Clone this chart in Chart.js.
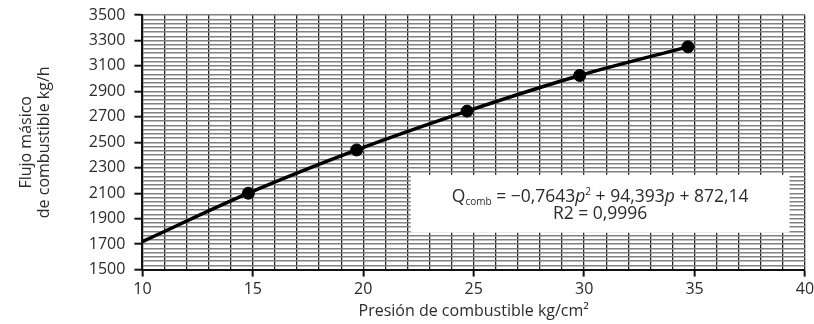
<!DOCTYPE html>
<html>
<head>
<meta charset="utf-8">
<script src="https://cdn.jsdelivr.net/npm/chart.js@4.4.1/dist/chart.umd.min.js"></script>
<style>
  html, body { margin: 0; padding: 0; background: #fff; }
  #wrap { width: 814px; height: 324px; }
</style>
</head>
<body>
<div id="wrap"><canvas id="chart"></canvas></div>
<script>
// Measured points: presión (kg/cm2) vs flujo másico (kg/h)
const presion = [14.8, 19.7, 24.7, 29.8, 34.7];
const flujo = [2100, 2440, 2745, 3025, 3250];

// Trend curve (starts at the left axis)
const curvaPresion = [10, 14.8, 19.7, 24.7, 29.8, 34.7];
const curvaFlujo = [1720, 2100, 2440, 2745, 3025, 3250];

// Labelled ticks
const xTicks = [10, 15, 20, 25, 30, 35, 40];
const yTicks = [1500, 1700, 1900, 2100, 2300, 2500, 2700, 2900, 3100, 3300, 3500];

const xTitle = 'Presión de combustible kg/cm²';
const yTitle = ['Flujo másico', 'de combustible kg/h'];
const r2Texto = 'R2 = 0,9996';

const FONT = "'Open Sans', sans-serif";
const TEXT = '#2b2b2b';

// equation box: white panel drawn over the grid
const eqBox = {
    id: 'eqBox',
    beforeDatasetsDraw(chart) {
        const { ctx, scales: { x, y } } = chart;
        const left = x.getPixelForValue(22.15), right = x.getPixelForValue(39.3);
        const top = y.getPixelForValue(2245), bottom = y.getPixelForValue(1790);
        ctx.save();
        ctx.fillStyle = '#fff';
        ctx.fillRect(left, top, right - left, bottom - top);

        const main = '17.5px ' + FONT, ital = 'italic 17.5px ' + FONT, small = '10px ' + FONT;
        const parts = [
            { t: 'Q', f: main, dy: 0 },
            { t: 'comb', f: small, dy: 3 },
            { t: ' = \u22120,7643', f: main, dy: 0 },
            { t: 'p', f: ital, dy: 0 },
            { t: '2', f: small, dy: -7 },
            { t: ' + 94,393', f: main, dy: 0 },
            { t: 'p', f: ital, dy: 0 },
            { t: ' + 872,14', f: main, dy: 0 }
        ];
        let total = 0;
        parts.forEach(p => { ctx.font = p.f; p.w = ctx.measureText(p.t).width; total += p.w; });
        const cx = (left + right) / 2;
        let px = cx - total / 2;
        const base1 = top + 27;
        ctx.fillStyle = TEXT;
        ctx.textBaseline = 'alphabetic';
        ctx.textAlign = 'left';
        parts.forEach(p => {
            ctx.font = p.f;
            ctx.fillText(p.t, px, base1 + p.dy);
            px += p.w;
        });
        ctx.font = main;
        ctx.textAlign = 'center';
        ctx.fillText(r2Texto, cx, base1 + 17);
        ctx.restore();
    }
};

const isLabelled = (list, v) => list.includes(Math.round(v));

new Chart(document.getElementById('chart'), {
    type: 'scatter',
    data: {
        datasets: [
            {
                type: 'line',
                data: curvaPresion.map((p, i) => ({ x: p, y: curvaFlujo[i] })),
                borderColor: '#000',
                borderWidth: 3.5,
                pointRadius: 0,
                cubicInterpolationMode: 'monotone',
                fill: false
            },
            {
                data: presion.map((p, i) => ({ x: p, y: flujo[i] })),
                backgroundColor: '#000',
                borderColor: '#000',
                pointRadius: 6,
                pointHoverRadius: 6
            }
        ]
    },
    options: {
        responsive: true,
        maintainAspectRatio: false,
        animation: false,
        layout: { padding: { top: 15, left: 8, right: 9, bottom: 1 } },
        plugins: {
            legend: { display: false },
            tooltip: { enabled: false }
        },
        scales: {
            x: {
                type: 'linear',
                min: 10,
                max: 40,
                afterFit: s => { s.paddingRight = 0; s.paddingLeft = 0; },
                ticks: {
                    stepSize: 1,
                    autoSkip: false,
                    maxRotation: 0,
                    padding: 3,
                    color: TEXT,
                    font: { family: FONT, size: 16 },
                    callback: v => isLabelled(xTicks, v) ? String(Math.round(v)) : ''
                },
                grid: {
                    color: '#222',
                    lineWidth: 1.3,
                    tickLength: 7,
                    tickColor: c => (c.tick && isLabelled(xTicks, c.tick.value)) ? '#111' : 'rgba(0,0,0,0)',
                    tickWidth: 2
                },
                border: { color: '#111', width: 2 },
                title: {
                    display: true,
                    text: xTitle,
                    color: TEXT,
                    font: { family: FONT, size: 16 },
                    padding: { top: 0, bottom: 2 }
                }
            },
            y: {
                type: 'linear',
                min: 1500,
                max: 3500,
                afterFit: s => { s.paddingTop = 0; s.paddingBottom = 0; },
                ticks: {
                    stepSize: 100 / 3,
                    autoSkip: false,
                    padding: 9,
                    color: TEXT,
                    font: { family: FONT, size: 16 },
                    callback: v => isLabelled(yTicks, v) ? String(Math.round(v)) : ''
                },
                grid: {
                    color: '#808080',
                    lineWidth: 1.4,
                    tickLength: 8,
                    tickColor: c => (c.tick && isLabelled(yTicks, c.tick.value)) ? '#111' : 'rgba(0,0,0,0)',
                    tickWidth: 2
                },
                border: { color: '#111', width: 2 },
                title: {
                    display: true,
                    text: yTitle,
                    color: TEXT,
                    font: { family: FONT, size: 16, lineHeight: 1.15 },
                    padding: { top: 9, bottom: 26 }
                }
            }
        }
    },
    plugins: [eqBox]
});
</script>
</body>
</html>
